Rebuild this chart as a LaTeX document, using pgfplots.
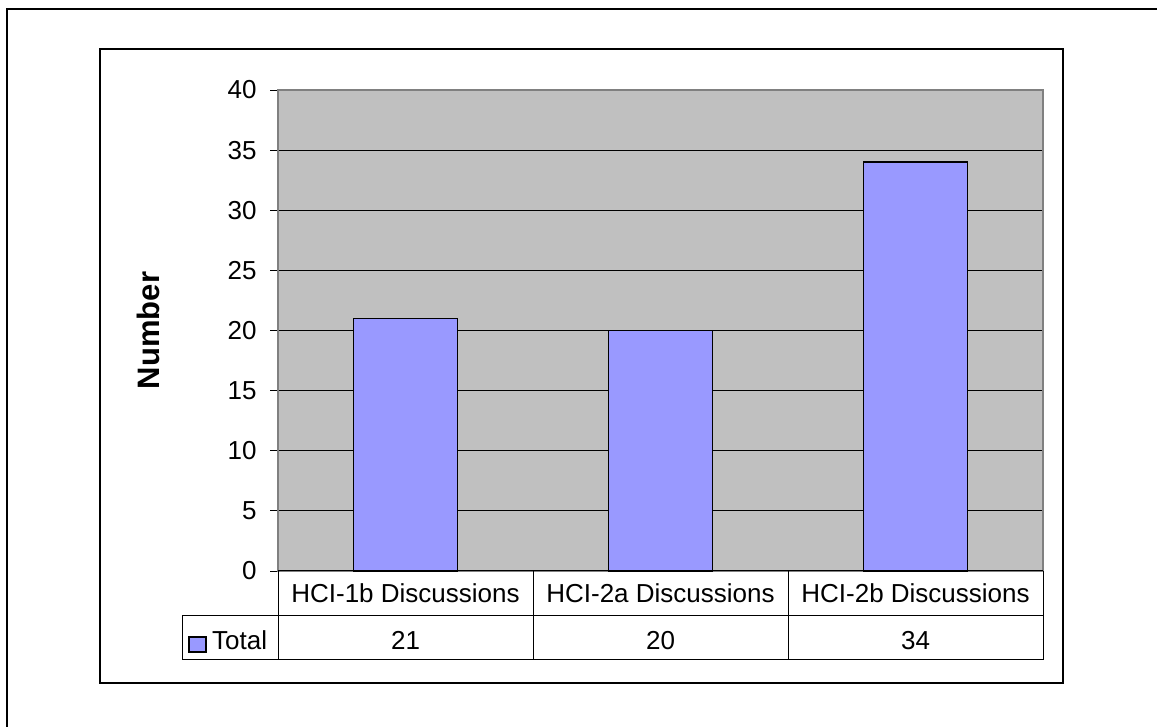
\documentclass[border=0pt]{standalone}
\usepackage{pgfplots}
\pgfplotsset{compat=1.18}
\usepackage{fontspec}
\setmainfont{Liberation Sans}
\definecolor{plotgray}{RGB}{192,192,192}
\definecolor{barblue}{RGB}{153,153,255}
\definecolor{framegray}{RGB}{128,128,128}
\newcommand{\lblfont}{\fontsize{26}{30}\selectfont}

\begin{document}
\begin{tikzpicture}[x=1pt,y=1pt]
\useasboundingbox (0,0) rectangle (1157,727);
% outer frame (top and left edges)
\draw[line width=1.3pt] (7,-5) -- (7,718) -- (1165,718);
% chart area frame
\draw[line width=1.1pt] (100,44) rectangle (1063,678);
\coordinate (plotSW) at (278,156);
\begin{axis}[
  at={(plotSW)}, anchor=south west,
  scale only axis, width=765pt, height=481pt,
  xmin=-0.5, xmax=2.5, ymin=0, ymax=40,
  ytick={0,5,...,40}, xtick=\empty, ytick pos=left,
  ymajorgrids, grid style={black, line width=0.9pt},
  axis background/.style={fill=plotgray},
  axis line style={draw=framegray, line width=1.2pt},
  tick style={black, line width=0.9pt},
  ytick align=outside, major tick length=8pt,
  tick label style={font=\lblfont},
  yticklabel style={xshift=-10pt},
  /pgf/number format/assume math mode=true,
  ylabel={\bfseries Number},
  every axis y label/.style={at={(axis description cs:-0.17,0.5)}, rotate=90, anchor=center, font=\fontsize{31}{36}\selectfont},
  ybar, bar width=104pt, bar shift=0pt,
  clip=false,
]
\addplot[fill=barblue, draw=black, line width=1.5pt] coordinates {(0,21) (1,20) (2,34)};
\end{axis}
% data table under the plot
\begin{scope}[line width=1pt]
\draw (278,156) -- (1043,156);
\foreach \xx in {278,533,788,1043} \draw (\xx,156) -- (\xx,67);
\draw (182,111) -- (1043,111);
\draw (182,67) -- (1043,67);
\draw (182,111) -- (182,67);
\end{scope}
\node[font=\lblfont] at (405.5,133.5) {HCI-1b Discussions};
\node[font=\lblfont] at (660.5,133.5) {HCI-2a Discussions};
\node[font=\lblfont] at (915.5,133.5) {HCI-2b Discussions};
\draw[fill=barblue, draw=black, line width=1.6pt] (189,75) rectangle (206,90);
\node[font=\lblfont, anchor=base west, inner sep=0pt] at (212,77) {Total};
\node[font=\lblfont, anchor=base, inner sep=0pt] at (405.5,77) {21};
\node[font=\lblfont, anchor=base, inner sep=0pt] at (660.5,77) {20};
\node[font=\lblfont, anchor=base, inner sep=0pt] at (915.5,77) {34};
\end{tikzpicture}
\end{document}
